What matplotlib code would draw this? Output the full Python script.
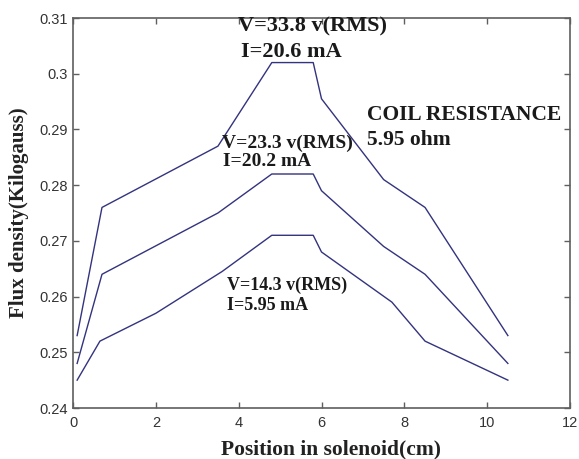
import matplotlib
matplotlib.use("Agg")
from matplotlib import pyplot as plt

# positions along the solenoid (cm)
pos_a = [0.1, 0.7, 3.5, 4.8, 5.8, 6.0, 7.5, 8.5, 10.5]
pos_b = [0.1, 0.65, 2.0, 3.6, 4.8, 5.8, 6.0, 7.7, 8.5, 10.5]

# flux density (kilogauss) for each drive level
flux_338 = [0.253, 0.276, 0.287, 0.302, 0.302, 0.2955, 0.281, 0.276, 0.253]
flux_233 = [0.248, 0.264, 0.275, 0.282, 0.282, 0.279, 0.269, 0.264, 0.248]
flux_143 = [0.245, 0.252, 0.257, 0.2645, 0.271, 0.271, 0.268, 0.259, 0.252, 0.245]

x_ticks = [0, 2, 4, 6, 8, 10, 12]
y_ticks = [0.24, 0.25, 0.26, 0.27, 0.28, 0.29, 0.30, 0.31]
y_tick_labels = ["0.24", "0.25", "0.26", "0.27", "0.28", "0.29", "0.3", "0.31"]

# text, x, baseline y, size
notes = [
    ("V=33.8 v(RMS)", 3.98, 0.3075, 16),
    ("I=20.6 mA", 4.06, 0.3030, 16),
    ("COIL RESISTANCE", 7.10, 0.2917, 15.5),
    ("5.95 ohm", 7.10, 0.2872, 15.5),
    ("V=23.3 v(RMS)", 3.60, 0.2867, 14),
    ("I=20.2 mA", 3.62, 0.2834, 14),
    ("V=14.3 v(RMS)", 3.72, 0.2612, 13),
    ("I=5.95 mA", 3.72, 0.2576, 13),
]

line_color = "#33337f"
spine_color = "#5f5f5f"
serif = ["Liberation Serif", "DejaVu Serif"]

fig = plt.figure(figsize=(5.79, 4.59), dpi=100)
ax = fig.add_axes([73 / 579, 1 - 408 / 459, 497 / 579, 390 / 459])

ax.plot(pos_a, flux_338, color=line_color, lw=1.0)
ax.plot(pos_a, flux_233, color=line_color, lw=1.0)
ax.plot(pos_b, flux_143, color=line_color, lw=1.0)

ax.set_xlim(0, 12)
ax.set_ylim(0.24, 0.31)
ax.set_xticks(x_ticks)
ax.set_yticks(y_ticks)
ax.set_yticklabels(y_tick_labels)

ax.tick_params(direction="in", length=4, width=1, colors=spine_color,
               top=True, right=True, labelcolor="#333333", labelsize=10.5)
ax.tick_params(axis="x", pad=6)
ax.tick_params(axis="y", pad=4)
for lab in ax.get_xticklabels() + ax.get_yticklabels():
    lab.set_fontfamily(["Liberation Sans", "DejaVu Sans"])
for s in ax.spines.values():
    s.set_color(spine_color)
    s.set_linewidth(1.2)

ax.set_xlabel("Position in solenoid(cm)", fontsize=15.5, fontweight="bold",
              family=serif, color="#222222")
ax.xaxis.set_label_coords(0.519, -0.082)
ax.set_ylabel("Flux density(Kilogauss)", fontsize=15, fontweight="bold",
              family=serif, color="#222222")
ax.yaxis.set_label_coords(-0.089, 0.5)

for txt, x, y, size in notes:
    ax.text(x, y, txt, fontsize=size, fontweight="bold", family=serif,
            color="#1a1a1a", ha="left", va="baseline", clip_on=False)

fig.savefig("out.png", dpi=100)
